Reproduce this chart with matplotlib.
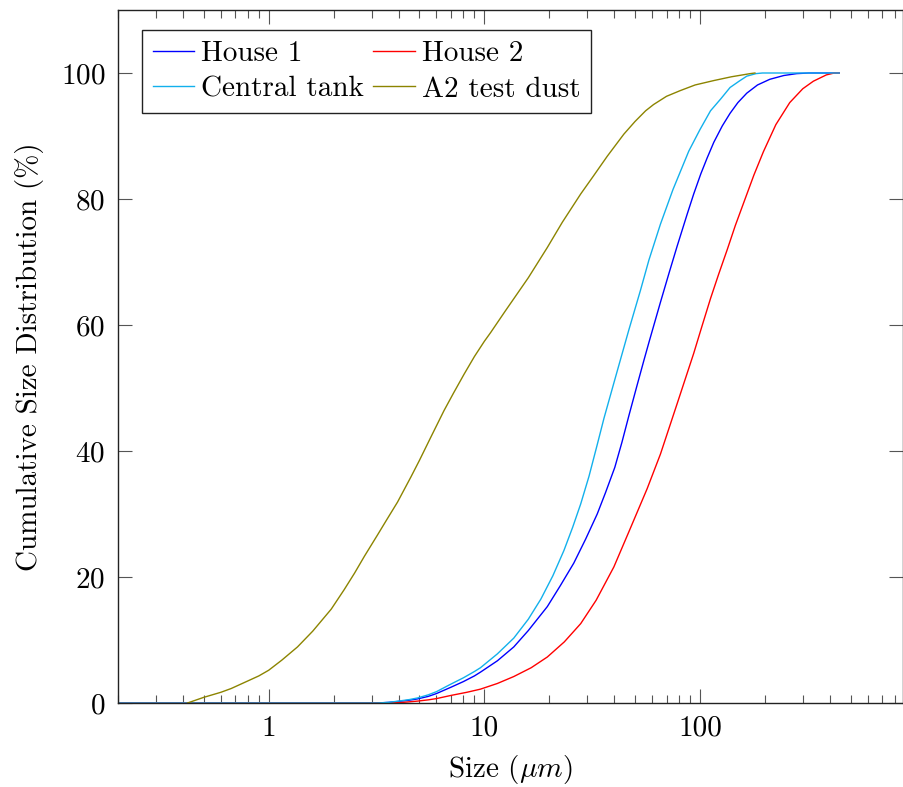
import numpy as np
import matplotlib
matplotlib.use("Agg")
import matplotlib.pyplot as plt
from matplotlib.ticker import FixedLocator, FixedFormatter, LogLocator, NullFormatter

# Cumulative particle size distributions (size in micrometres, cumulative %)
size_house1 = [0.2, 3.2, 3.6, 4.0, 4.5, 4.9, 5.5, 6.0, 7.0, 8.0, 9.0, 9.6, 11.5, 13.7,
               16, 19.6, 22.5, 26, 29.5, 33.4, 36.5, 40.3, 43.5, 47, 51, 55, 58.2,
               65.6, 72, 78.4, 87.3, 93.6, 101, 108, 116, 127, 138, 150, 165, 185,
               211, 245, 281, 320, 443]
house1 = [0, 0, 0.1, 0.25, 0.45, 0.65, 1.05, 1.5, 2.5, 3.4, 4.3, 4.9, 6.7, 8.9,
          11.5, 15.3, 18.6, 22.2, 26.0, 30.0, 33.4, 37.4, 41.4, 45.8, 50.3, 54.4, 57.4,
          63.6, 68.3, 72.5, 77.6, 80.8, 84.0, 86.5, 89.0, 91.6, 93.6, 95.3, 96.8, 98.1,
          99.0, 99.6, 99.9, 100, 100]

size_house2 = [0.2, 3.6, 4.2, 4.9, 5.5, 6.0, 7.0, 8.3, 9.6, 11.5, 13.7, 16.5, 19.6,
               23.5, 28, 33, 39.9, 47, 56.9, 65.6, 78.4, 93.6, 102, 112, 122, 134,
               146, 160, 178, 197, 225, 261, 300, 336, 386, 420, 443]
house2 = [0, 0, 0.1, 0.3, 0.5, 0.7, 1.2, 1.7, 2.2, 3.1, 4.2, 5.6, 7.3,
          9.7, 12.6, 16.3, 21.6, 27.3, 34.0, 39.5, 47.5, 55.5, 59.7, 64.2, 68.0, 72.0,
          75.8, 79.5, 83.8, 87.5, 91.8, 95.3, 97.5, 98.7, 99.7, 100, 100]

size_tank = [0.2, 3.2, 3.6, 4.0, 4.5, 4.9, 5.5, 6.0, 7.0, 8.0, 9.0, 9.6, 11.5, 13.7,
             16, 18.3, 20.8, 23.4, 25.7, 28, 30.6, 33.4, 35.9, 39.9, 42.8, 46.8, 53,
             58, 65.6, 75, 88.8, 100, 112, 125, 138, 152, 165, 182, 195, 443]
tank = [0, 0, 0.1, 0.3, 0.55, 0.8, 1.3, 1.8, 3.0, 4.0, 5.0, 5.6, 7.8, 10.3,
        13.3, 16.5, 20.2, 24.2, 27.9, 31.6, 36.0, 41.0, 45.2, 50.8, 54.5, 59.2, 65.5,
        70.3, 76.0, 81.5, 87.6, 91.0, 94.0, 95.9, 97.7, 98.7, 99.5, 99.9, 100, 100]

size_a2 = [0.42, 0.5, 0.6, 0.67, 0.8, 0.9, 1.0, 1.15, 1.36, 1.6, 1.95, 2.24, 2.5,
           2.78, 3.2, 3.5, 3.96, 4.57, 5.0, 5.65, 6.5, 7.2, 8.06, 9.0, 10, 10.7,
           12.5, 16, 19.6, 23, 28, 32, 37.2, 44.4, 50, 56, 61, 70, 81, 95, 116,
           140, 171, 180]
a2_dust = [0, 0.9, 1.7, 2.3, 3.5, 4.3, 5.2, 6.8, 8.9, 11.4, 14.9, 18.0, 20.6,
           23.3, 26.7, 28.9, 31.9, 35.9, 38.5, 42.2, 46.4, 49.2, 52.2, 55.0, 57.4, 58.8,
           62.2, 67.5, 72.3, 76.3, 80.8, 83.6, 86.8, 90.3, 92.3, 94.0, 95.0, 96.3, 97.2,
           98.1, 98.8, 99.4, 99.9, 100]

x_ticks = [1, 10, 100]
x_tick_labels = ["1", "10", "100"]
y_ticks = [0, 20, 40, 60, 80, 100]

plt.rcParams["font.family"] = "serif"
plt.rcParams["font.serif"] = ["cmr10"]
plt.rcParams["mathtext.fontset"] = "cm"
plt.rcParams["axes.formatter.use_mathtext"] = True
plt.rcParams["axes.unicode_minus"] = False

FS = 21

fig = plt.figure(figsize=(9.04, 7.87), dpi=100)
W, H = 904, 787
ax = fig.add_axes([118 / W, 1 - 703 / H, (903 - 118) / W, (703 - 10) / H])

lw = 1.0
l1, = ax.plot(size_house1, house1, color="#0000ff", lw=lw, label="House 1")
l2, = ax.plot(size_house2, house2, color="#ff0000", lw=lw, label="House 2")
l3, = ax.plot(size_tank, tank, color="#12b0ec", lw=lw, label="Central tank")
l4, = ax.plot(size_a2, a2_dust, color="#8c8400", lw=lw, label="A2 test dust")

ax.set_xscale("log")
ax.set_xlim(0.2, 875)
ax.set_ylim(0, 110)

ax.xaxis.set_major_locator(FixedLocator(x_ticks))
ax.xaxis.set_major_formatter(FixedFormatter(x_tick_labels))
ax.xaxis.set_minor_locator(LogLocator(base=10, subs=np.arange(2, 10), numticks=20))
ax.xaxis.set_minor_formatter(NullFormatter())
ax.set_yticks(y_ticks)

ax.tick_params(which="both", direction="in", top=True, right=True,
               labelsize=FS, color="#555555", width=0.8)
ax.tick_params(which="major", length=10, pad=9)
ax.tick_params(which="minor", length=6)
for sp in ax.spines.values():
    sp.set_linewidth(1.0)
    sp.set_color("#222222")

ax.set_xlabel(r"Size ($\mu m$)", fontsize=FS, labelpad=8)
ax.set_ylabel("Cumulative Size Distribution (%)", fontsize=FS, labelpad=12)

leg = ax.legend(handles=[l1, l3, l2, l4], ncol=2, loc="upper left",
                bbox_to_anchor=(24 / 785, 1 - 20 / 693), borderaxespad=0,
                fontsize=FS, frameon=True, fancybox=False, framealpha=1,
                edgecolor="#222222", handlelength=1.42, handletextpad=0.25,
                columnspacing=0.32, labelspacing=0.32, borderpad=0.36)
leg.get_frame().set_linewidth(1.0)

fig.savefig("out.png", dpi=100)
